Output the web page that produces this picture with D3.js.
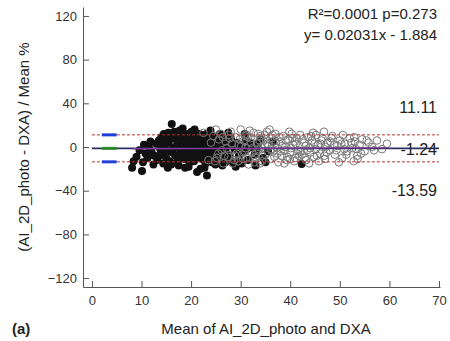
<!DOCTYPE html>
<html>
<head>
<meta charset="utf-8">
<script src="https://cdn.jsdelivr.net/npm/d3@7"></script>
<style>
  body { margin: 0; background: #fff; }
  svg { display: block; font-family: 'Liberation Sans', Arial, sans-serif; }
</style>
</head>
<body>
<div id="chart"></div>
<script>
// Bland-Altman data
const filledPts = [
  [8.1,-19],[8.4,-13],[9.0,-9],[9.6,-3],[10.1,-22],[10.3,-14],[10.5,2],[10.8,-6],[11.2,-10],[11.5,0],
  [12.0,-4],[12.6,-8],[13.0,3],[13.2,-12],[13.5,6],[13.8,-2],[14.0,9],[14.2,-6],[14.5,12],[14.7,1],
  [15.0,-10],[15.3,-19],[15.5,4],[15.8,-4],[16.1,21],[16.2,8],[16.4,-1],[16.6,14],[16.8,-8],[17.0,11],
  [17.2,3],[17.4,-12],[17.6,6],[17.8,-3],[18.0,13],[18.2,-6],[18.4,1],[18.6,9],[18.8,-19],[19.0,-10],
  [19.2,4],[19.4,12],[19.6,-2],[19.8,7],[20.0,-8],[20.2,0],[20.4,10],[20.6,-13],[20.8,5],[21.0,-4],
  [21.2,-23],[21.4,8],[21.6,2],[21.8,-7],[22.0,11],[22.2,-11],[22.4,3],[22.6,-2],[22.8,6],[23.0,-9],
  [23.2,-26],[23.4,9],[23.6,-5],[23.8,1],[24.0,12],[24.2,-14],[24.4,4],[24.6,-3],[24.8,7],[25.0,-10],
  [25.3,-1],[25.6,10],[25.9,-6],[26.2,3],[26.5,-12],[26.8,6],[27.1,-4],[27.4,1],[27.7,-8],[28.0,8],
  [28.4,-14],[28.8,-2],[29.2,4],[29.6,-9],[30.0,2],[30.5,-5],[31.0,7],[31.5,-12],[32.0,0],[32.8,-7],
  [33.5,3],[34.5,-10],[35.5,-4],[42.3,-15.6],[36.5,5],
  [13.6,-8],[14.3,4],[14.9,-3],[15.2,7],[15.6,-13],[15.9,10],[16.3,-5],[16.9,0],[17.3,-9],[17.7,15],
  [18.1,-1],[18.5,5],[18.9,-5],[19.3,0],[19.7,-14],[20.1,14],[20.5,3],[20.9,-10],[21.3,-1],[21.7,12],
  [22.1,-4],[22.5,6],[22.9,-15],[23.3,2],[23.7,-7],[24.1,8],[24.5,-1],[24.9,-16],[25.5,5],[26.0,-2],
  [26.6,-7],[27.2,9],[27.8,-11],[28.6,1],[29.4,-4],[30.2,-15],[31.2,-2],[14.4,-15],[16.0,-16],[17.5,-17],
  [19.5,-18],[22.7,-19],[26.3,-17],[29.0,-18],[33.0,-17],[15.4,13],[18.3,17],[20.7,16],[23.9,15],[27.5,13],
  [30.8,12],[21.9,-20],[12.4,-16],[11.8,5],
  [17.1,-14],[18.7,-11],[19.9,9],[21.1,6],[22.3,-8],[23.1,12],[24.3,-11],[25.1,2],[25.8,12],[26.9,-14],
  [28.2,5],[29.8,-12],[31.8,4],[33.2,-3],[34.0,7],[35.0,-14]
];

const openPts = [
  [22.5,13],[23.5,-12],[24.5,10],[25.0,16],[25.5,-6],[26.0,12],[26.5,-15],[27.0,5],[27.5,-9],[28.0,14],
  [28.5,-3],[29.0,9],[29.5,-13],[30.0,16],[30.3,-7],[30.6,6],[31.0,-1],[31.3,11],[31.6,-16],[32.0,8],
  [32.3,-5],[32.6,13],[33.0,-10],[33.3,3],[33.6,-2],[34.0,10],[34.3,-13],[34.6,6],[35.0,-7],[35.3,14],
  [35.6,1],[36.0,-11],[36.3,8],[36.6,-4],[37.0,12],[37.3,-1],[37.6,-14],[38.0,5],[38.3,-8],[38.6,10],
  [39.0,0],[39.3,-12],[39.6,7],[40.0,-5],[40.3,12],[40.6,2],[41.0,-10],[41.3,8],[41.6,-3],[42.0,11],
  [42.4,-7],[42.8,4],[43.2,-12],[43.6,9],[44.0,-1],[44.4,6],[44.8,-9],[45.2,11],[45.6,2],[46.0,-6],
  [46.5,8],[47.0,-11],[47.5,4],[48.0,-3],[48.5,10],[49.0,-7],[49.5,1],[50.0,6],[50.5,-10],[51.0,3],
  [51.5,-4],[52.0,8],[52.5,-1],[53.0,5],[53.5,-8],[54.0,2],[54.5,7],[55.0,-4],[55.8,4],[56.5,0],
  [57.5,6],[58.5,-2],[59.5,3],
  [27.2,-1],[28.2,3],[29.2,-6],[30.1,1],[31.1,-10],[32.1,4],[33.1,-6],[34.1,0],[35.1,7],[36.1,-2],
  [37.1,4],[38.1,-4],[39.1,6],[40.1,-1],[41.1,3],[42.1,-4],[43.1,1],[44.1,-5],[45.1,-2],[46.1,3],
  [47.1,0],[48.1,5],[26.2,-3],[29.8,7],[32.8,-14],[34.8,11],[36.8,-9],[38.8,-15],[40.8,-13],[43.8,-15],
  [27.8,8],[30.8,-4],[33.8,6],[37.8,9],[41.8,-8],[45.8,-13],[49.8,-14],[24.0,4],[25.2,-10],[31.8,15],
  [35.8,16],[39.8,14],[44.6,13],[50.6,11],[53.6,-11],[46.8,14],[52.8,-13],
  [25.6,7],[26.7,-8],[27.6,11],[28.7,-12],[29.6,2],[30.5,-11],[31.5,9],[32.4,-1],[33.5,12],[34.4,-8],
  [35.4,3],[36.4,11],[37.4,-6],[38.4,1],[39.4,-9],[40.4,8],[41.4,-6],[42.5,7],[43.4,-3],[44.2,10],
  [45.4,-8],[46.3,6],[47.3,-5],[48.3,8],[49.3,-3],[50.3,3],[51.3,-7],[52.3,4],[53.3,-2],[54.3,-6],
  [26.4,9],[28.9,-8],[30.9,10],[32.9,-9],[34.9,2],[36.9,6],[38.9,-3],[40.9,5],[42.9,-10],[44.9,3],
  [46.9,-8],[48.9,2],[50.9,-2],[52.9,9],[55.4,6],[56.9,-3],[24.8,-13],[28.4,-15],[33.9,-15],[39.9,-11]
];

const meanDiff = -1.24;
const upperLoA = 11.11;
const lowerLoA = -13.59;
const regSlope = 0.02031;
const regIntercept = -1.884;
const statLines = ['R\u00b2=0.0001 p=0.273', 'y= 0.02031x - 1.884'];
const xTicks = [0, 10, 20, 30, 40, 50, 60, 70];
const yTicks = [-120, -80, -40, 0, 40, 80, 120];
const ciSpan = [2, 5];

const width = 450;
const height = 341;

const x = d3.scaleLinear().domain([-1.8, 70.2]).range([83, 440]);
const y = d3.scaleLinear().domain([-128.2, 128.2]).range([287, 7]);

const svg = d3.select('#chart').append('svg').attr('width', width).attr('height', height);

// axes, ticks point inward
const yAxis = svg.append('g')
  .attr('transform', `translate(${x.range()[0]},0)`)
  .call(d3.axisLeft(y).tickValues(yTicks).tickSizeInner(-6).tickSizeOuter(0).tickPadding(6));
const xAxis = svg.append('g')
  .attr('transform', `translate(0,${y.range()[0]})`)
  .call(d3.axisBottom(x).tickValues(xTicks).tickSizeInner(-6).tickSizeOuter(0).tickPadding(9));

[xAxis, yAxis].forEach((ax) => {
  ax.select('.domain').attr('stroke', '#555');
  ax.selectAll('.tick line').attr('stroke', '#555');
  ax.selectAll('.tick text').attr('fill', '#333').attr('font-size', 13).attr('font-family', 'Liberation Sans, Arial, sans-serif');
});

// points
svg.append('g')
  .selectAll('circle')
  .data(filledPts)
  .join('circle')
  .attr('cx', (d) => x(d[0]))
  .attr('cy', (d) => y(d[1]))
  .attr('r', 4)
  .attr('fill', '#111');

svg.append('g')
  .selectAll('circle')
  .data(openPts)
  .join('circle')
  .attr('cx', (d) => x(d[0]))
  .attr('cy', (d) => y(d[1]))
  .attr('r', 3.8)
  .attr('fill', 'none')
  .attr('stroke', '#7a7a7a')
  .attr('stroke-width', 1);

// mean and limits of agreement
svg.append('line')
  .attr('x1', x(0)).attr('x2', x(70))
  .attr('y1', y(meanDiff)).attr('y2', y(meanDiff))
  .attr('stroke', '#2a3160').attr('stroke-width', 1.6);

[upperLoA, lowerLoA].forEach((v) => {
  svg.append('line')
    .attr('x1', x(0)).attr('x2', x(70))
    .attr('y1', y(v)).attr('y2', y(v))
    .attr('stroke', '#b4332f').attr('stroke-width', 1)
    .attr('stroke-dasharray', '3,2');
});

// regression line across the data range
const allX = filledPts.concat(openPts).map((d) => d[0]);
const [rx0, rx1] = d3.extent(allX);
svg.append('line')
  .attr('x1', x(rx0)).attr('x2', x(rx1))
  .attr('y1', y(regSlope * rx0 + regIntercept)).attr('y2', y(regSlope * rx1 + regIntercept))
  .attr('stroke', '#8b3a9c').attr('stroke-width', 1.2);

// confidence markers at the left
[[upperLoA, '#1f3fd6'], [lowerLoA, '#1f3fd6'], [meanDiff, '#2f8a2f']].forEach(([v, c]) => {
  svg.append('line')
    .attr('x1', x(ciSpan[0])).attr('x2', x(ciSpan[1]))
    .attr('y1', y(v)).attr('y2', y(v))
    .attr('stroke', c).attr('stroke-width', 3);
});

// value labels
[[upperLoA, -26], [meanDiff, 2], [lowerLoA, 30]].forEach(([v, dy]) => {
  svg.append('text')
    .attr('x', 437)
    .attr('y', y(v) + dy)
    .attr('text-anchor', 'end')
    .attr('font-size', 16)
    .attr('fill', '#222')
    .attr('dominant-baseline', 'middle')
    .text(v.toFixed(2));
});

statLines.forEach((t, i) => {
  svg.append('text')
    .attr('x', 437)
    .attr('y', 19 + i * 21)
    .attr('text-anchor', 'end')
    .attr('font-size', 15)
    .attr('fill', '#222')
    .text(t);
});

svg.append('text')
  .attr('transform', `translate(25,${y(0)}) rotate(-90)`)
  .attr('text-anchor', 'middle')
  .attr('dominant-baseline', 'middle')
  .attr('font-size', 15)
  .attr('fill', '#222')
  .text('(AI_2D_photo - DXA) / Mean %');

svg.append('text')
  .attr('x', 266)
  .attr('y', 334)
  .attr('text-anchor', 'middle')
  .attr('font-size', 15)
  .attr('fill', '#222')
  .text('Mean of AI_2D_photo and DXA');

svg.append('text')
  .attr('x', 12)
  .attr('y', 334)
  .attr('font-size', 15)
  .attr('font-weight', 'bold')
  .attr('fill', '#222')
  .text('(a)');
</script>
</body>
</html>
